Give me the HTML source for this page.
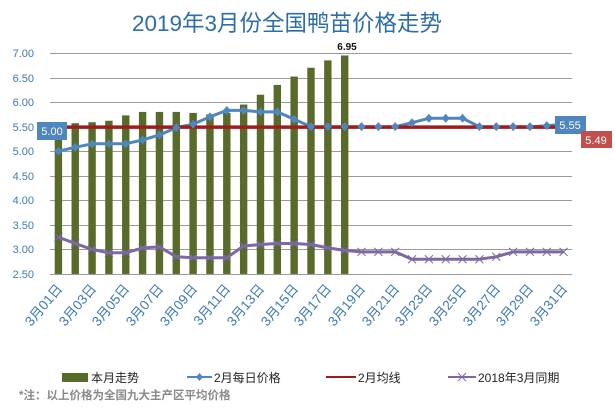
<!DOCTYPE html><html><head><meta charset="utf-8"><style>
body{margin:0;background:#fff;width:615px;height:411px;overflow:hidden}
text{font-family:"Liberation Sans","Noto Sans CJK SC",sans-serif}
</style></head><body>
<svg id="s" width="615" height="411" xmlns="http://www.w3.org/2000/svg">
<text x="287" y="31" text-anchor="middle" font-size="22.5" fill="#2e6ea6">2019年3月份全国鸭苗价格走势</text>
<g id="grid" stroke="#9a9a9a" stroke-width="1"></g>
<g font-size="11" fill="#3d7ab0" text-anchor="end">
<text x="34" y="57">7.00</text><text x="34" y="82">6.50</text><text x="34" y="106">6.00</text><text x="34" y="131">5.50</text><text x="34" y="155">5.00</text><text x="34" y="180">4.50</text><text x="34" y="204">4.00</text><text x="34" y="229">3.50</text><text x="34" y="253">3.00</text><text x="34" y="278">2.50</text>
</g>
<g id="bars" fill="#586b2b"></g>
<g id="lines"></g>
<text x="347" y="50" font-size="10" font-weight="bold" text-anchor="middle" fill="#111">6.95</text>
<rect x="37" y="122" width="30" height="18" fill="#4e86c0"/><text x="52" y="135" font-size="11" fill="#fff" text-anchor="middle">5.00</text>
<rect x="555" y="116" width="31" height="18" fill="#4e86c0"/><text x="570" y="129" font-size="11" fill="#fff" text-anchor="middle">5.55</text>
<rect x="581" y="131" width="31" height="17" fill="#c0504d"/><text x="596" y="144" font-size="11" fill="#fff" text-anchor="middle">5.49</text>
<g font-size="12" fill="#222">
<rect x="62" y="373" width="26" height="9" fill="#586b2b"/><text x="91" y="382">本月走势</text>
<line x1="187" y1="377" x2="212" y2="377" stroke="#4e86c0" stroke-width="2"/><path d="M199.5 373l3.5 4-3.5 4-3.5-4z" fill="#4e86c0"/><text x="214" y="382">2月每日价格</text>
<line x1="326" y1="377" x2="356" y2="377" stroke="#a01c1c" stroke-width="2"/><text x="358" y="382">2月均线</text>
<line x1="448" y1="377" x2="476" y2="377" stroke="#7d68a4" stroke-width="2"/><path d="M458 373l8 8M466 373l-8 8" stroke="#7d68a4"/><text x="478" y="382">2018年3月同期</text>
</g>
<text x="19" y="399" font-size="11.5" font-weight="bold" fill="#8a8a8a">*注：以上价格为全国九大主产区平均价格</text>
<script>
var ns="http://www.w3.org/2000/svg";
function Y(v){return 53+(7-v)*49.1}
function X(i){return 58.4+16.84*i}
function el(p,t,a){var e=document.createElementNS(ns,t);for(var k in a)e.setAttribute(k,a[k]);document.getElementById(p).appendChild(e);return e}
for(var v=2.5;v<=7.001;v+=0.5){var y=Math.round(Y(v))+.5;el("grid","line",{x1:50,x2:572,y1:y,y2:y})}
var bars=[5.55,5.57,5.59,5.62,5.73,5.80,5.80,5.80,5.78,5.75,5.78,5.95,6.15,6.35,6.52,6.70,6.85,6.95];
bars.forEach(function(b,i){el("bars","rect",{x:X(i)-3.7,y:Y(b),width:7.4,height:Y(2.5)-Y(b)})});
var blue=[5.00,5.08,5.15,5.15,5.15,5.23,5.33,5.48,5.55,5.70,5.83,5.83,5.80,5.80,5.65,5.50,5.50,5.50,5.50,5.50,5.50,5.58,5.67,5.67,5.67,5.50,5.50,5.50,5.50,5.52,5.55];
var pur=[3.25,3.12,3.00,2.93,2.93,3.03,3.05,2.85,2.83,2.83,2.83,3.07,3.10,3.12,3.12,3.10,3.03,2.98,2.95,2.95,2.95,2.80,2.80,2.80,2.80,2.80,2.85,2.95,2.95,2.95,2.95];
function pts(a){return a.map(function(v,i){return X(i).toFixed(1)+","+Y(v).toFixed(1)}).join(" ")}
el("lines","polyline",{points:pts(pur),fill:"none",stroke:"#7d68a4","stroke-width":3,"stroke-linejoin":"round"});
pur.forEach(function(v,i){var x=X(i),y=Y(v);el("lines","path",{d:"M"+(x-4)+" "+(y-4)+"l8 8M"+(x+4)+" "+(y-4)+"l-8 8",stroke:"#7d68a4","stroke-width":1})});
el("lines","polyline",{points:pts(blue),fill:"none",stroke:"#4e86c0","stroke-width":3,"stroke-linejoin":"round"});
el("lines","line",{x1:50,x2:572,y1:Y(5.49),y2:Y(5.49),stroke:"#a01c1c","stroke-width":3.5});
blue.forEach(function(v,i){var x=X(i),y=Y(v);el("lines","path",{d:"M"+x+" "+(y-4.5)+"l4 4.5-4 4.5-4-4.5z",fill:"#4e86c0"})});
</script>
<g font-size="13.5" fill="#3d7ab0" text-anchor="end">
<text transform="translate(63,289) rotate(-50)">3月01日</text>
<text transform="translate(97,289) rotate(-50)">3月03日</text>
<text transform="translate(130,289) rotate(-50)">3月05日</text>
<text transform="translate(164,289) rotate(-50)">3月07日</text>
<text transform="translate(198,289) rotate(-50)">3月09日</text>
<text transform="translate(231,289) rotate(-50)">3月11日</text>
<text transform="translate(265,289) rotate(-50)">3月13日</text>
<text transform="translate(299,289) rotate(-50)">3月15日</text>
<text transform="translate(332,289) rotate(-50)">3月17日</text>
<text transform="translate(366,289) rotate(-50)">3月19日</text>
<text transform="translate(400,289) rotate(-50)">3月21日</text>
<text transform="translate(433,289) rotate(-50)">3月23日</text>
<text transform="translate(467,289) rotate(-50)">3月25日</text>
<text transform="translate(501,289) rotate(-50)">3月27日</text>
<text transform="translate(534,289) rotate(-50)">3月29日</text>
<text transform="translate(568,289) rotate(-50)">3月31日</text>
</g>
</svg>
</body></html>
